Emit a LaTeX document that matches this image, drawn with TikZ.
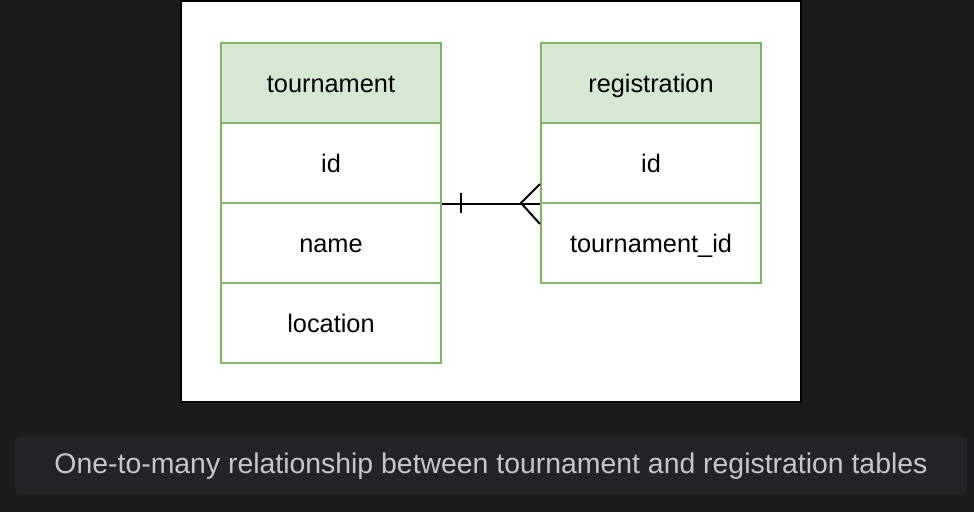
\documentclass[tikz,border=0pt]{standalone}
\usepackage{fontspec}
\setmainfont{Liberation Sans}
\usetikzlibrary{positioning,calc}
\definecolor{pagebg}{HTML}{1C1C1E}
\definecolor{capbg}{HTML}{232428}
\definecolor{captext}{HTML}{C6C7CA}
\definecolor{hdrfill}{HTML}{D5E8D4}
\definecolor{hdrline}{HTML}{82B366}

\begin{document}
\begin{tikzpicture}[x=0.75pt, y=-0.75pt,
  every node/.style={draw=hdrline, line width=1.5pt, fill=white, minimum width=165pt, minimum height=60pt, inner sep=0pt, text height=15pt, text depth=1.5pt, font=\fontsize{19pt}{22pt}\selectfont},
  hdr/.style={fill=hdrfill}]

% background and canvas
\fill[pagebg] (0,0) rectangle (974,512);
\draw[fill=white, line width=1.5pt] (181,1) rectangle (801,402);

% tournament table
\node[hdr] (T0) at (331,83) {tournament};
\node (T1) at (331,163) {id};
\node (T2) at (331,243) {name};
\node (T3) at (331,323) {location};

% registration table
\node[hdr] (R0) at (651,83) {registration};
\node (R1) at (651,163) {id};
\node (R2) at (651,243) {tournament\_id};

% one-to-many connector
\coordinate (C1) at (461,203);
\coordinate (C2) at (521,203);
\draw[line width=1.5pt] (T1.south east) -- (R1.south west);
\draw[line width=1.5pt] ([yshift=7.5pt]C1) -- ([yshift=-7.5pt]C1);
\draw[line width=1.5pt] ($(R1.south west)+(0,-20)$) -- (C2) -- ($(R1.south west)+(0,20)$);

% caption
\node[draw=none, fill=capbg, rounded corners=4pt, minimum width=714pt, minimum height=43.5pt, text height=15pt, text depth=3pt, text=captext, font=\fontsize{21.3pt}{24pt}\selectfont] (cap) at (491,465) {One-to-many relationship between tournament and registration tables};

\end{tikzpicture}
\end{document}
